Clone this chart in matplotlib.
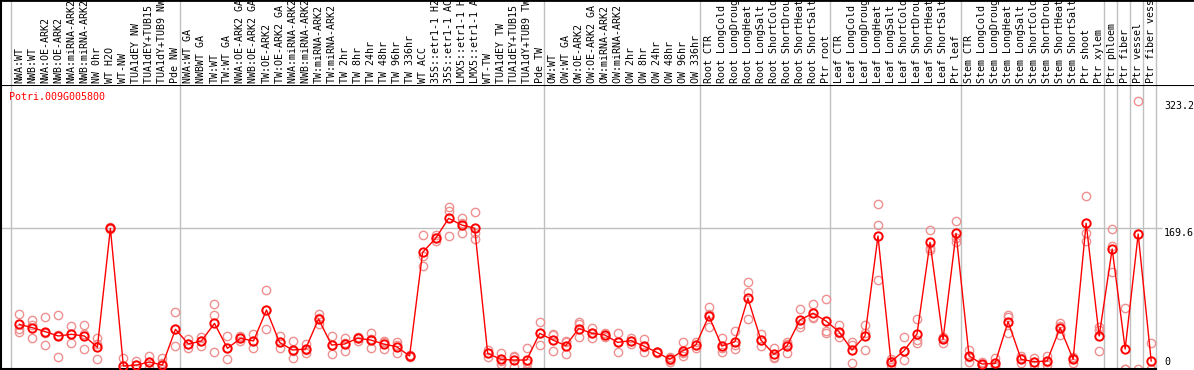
import matplotlib
matplotlib.use("Agg")
import matplotlib.pyplot as plt

# condition labels (88 columns)
labels = [
    "NWA:WT", "NWB:WT", "NWA:OE-ARK2", "NWB:OE-ARK2", "NWA:miRNA-ARK2", "NWB:miRNA-ARK2",
    "NW 0hr", "WT H2O", "WT-NW", "TUA1dEY NW", "TUA1dEY+TUB15 NW", "TUA1dY+TUB9 NW", "Pde NW",
    "NWA:WT GA", "NWBWT GA", "TW:WT", "TW:WT GA", "NWA:OE-ARK2 GA", "NWB:OE-ARK2 GA",
    "TW:OE-ARK2", "TW:OE-ARK2 GA", "NWA:miRNA-ARK2 GA", "NWB:miRNA-ARK2 GA",
    "TW:miRNA-ARK2", "TW:miRNA-ARK2 GA", "TW 2hr", "TW 8hr", "TW 24hr", "TW 48hr",
    "TW 96hr", "TW 336hr", "WT ACC", "35S::etr1-1 H2O", "35S::etr1-1 ACC",
    "LMX5::etr1-1 H2O", "LMX5::etr1-1 ACC", "WT-TW", "TUA1dEY TW", "TUA1dEY+TUB15 TW",
    "TUA1dY+TUB9 TW", "Pde TW",
    "OW:WT", "OW:WT GA", "OW:OE-ARK2", "OW:OE-ARK2 GA", "OW:miRNA-ARK2", "OW:miRNA-ARK2 GA",
    "OW 2hr", "OW 8hr", "OW 24hr", "OW 48hr", "OW 96hr", "OW 336hr",
    "Root CTR", "Root LongCold", "Root LongDrought", "Root LongHeat", "Root LongSalt",
    "Root ShortCold", "Root ShortDrought", "Root ShortHeat", "Root ShortSalt", "Ptr root",
    "Leaf CTR", "Leaf LongCold", "Leaf LongDrought", "Leaf LongHeat", "Leaf LongSalt",
    "Leaf ShortCold", "Leaf ShortDrought", "Leaf ShortHeat", "Leaf ShortSalt", "Ptr leaf",
    "Stem CTR", "Stem LongCold", "Stem LongDrought", "Stem LongHeat", "Stem LongSalt",
    "Stem ShortCold", "Stem ShortDrought", "Stem ShortHeat", "Stem ShortSalt",
    "Ptr shoot", "Ptr xylem",
    "Ptr phloem", "Ptr fiber", "Ptr vessel", "Ptr fiber vessel",
]

# first column of each group (gray separators)
group_starts = [0, 13, 41, 53, 63, 73, 84, 85, 86, 87, 88]

gene = "Potri.009G005800"

means = [
    53.8, 49.8, 45.0, 39.8, 41.8, 39.8, 26.1, 169.6, 3.6, 4.8, 8.4, 4.8, 47.8,
    30.1, 33.8, 55.0, 24.9, 37.0, 33.8, 71.1, 32.1, 22.9, 24.1, 60.3, 28.9, 30.1,
    37.0, 35.0, 30.1, 26.9, 15.7, 140.6, 157.5, 181.6, 173.6, 169.6, 18.9, 11.7,
    10.8, 10.8, 43.0,
    35.0, 28.1, 48.8, 43.0, 41.0, 32.1, 34.2, 27.7, 20.1, 11.7, 22.1, 28.9,
    63.9, 27.7, 32.9, 85.2, 35.0, 17.7, 27.7, 59.1, 67.1, 57.9,
    45.0, 22.9, 39.8, 160.3, 8.8, 22.1, 42.2, 152.7, 35.8, 163.5,
    15.7, 6.0, 6.8, 57.1, 11.7, 8.8, 9.6, 49.8, 11.7, 175.6, 39.8,
    144.6, 24.1, 162.7, 9.6,
]

rep_hi = [
    65.9, 59.1, 62.3, 64.7, 51.8, 53.0, 37.8, 170.8, 12.9, 9.6, 15.7, 12.9, 68.3,
    35.8, 39.0, 77.9, 39.8, 39.8, 41.8, 95.2, 39.8, 33.8, 30.1, 65.9, 39.8, 37.0,
    39.0, 43.8, 34.2, 32.9, 16.9, 161.5, 161.5, 194.9, 181.6, 188.8, 22.9, 19.7,
    15.7, 24.9, 57.1,
    41.8, 33.8, 56.7, 49.0, 43.0, 43.0, 37.8, 35.8, 20.9, 14.9, 32.1, 32.9,
    74.3, 37.0, 45.8, 104.5, 42.2, 24.9, 32.9, 72.3, 77.9, 84.0,
    53.0, 32.9, 53.0, 198.5, 11.7, 38.2, 60.3, 167.6, 39.0, 178.4,
    22.9, 8.8, 12.9, 65.1, 15.7, 12.9, 16.1, 55.9, 14.9, 208.5, 51.0,
    168.8, 73.1, 323.2, 30.9,
]

rep_mid = [
    47.8, 52.6, 43.8, 40.6, 42.6, 42.6, 30.1, 169.6, 0.0, 4.8, 8.4, 6.8, 47.8,
    30.1, 33.8, 65.1, 24.9, 37.0, 33.8, 71.1, 32.1, 22.1, 22.9, 61.1, 28.9, 30.9,
    37.8, 36.2, 32.1, 28.9, 15.7, 136.6, 157.5, 190.9, 175.6, 163.5, 18.9, 10.0,
    14.1, 7.6, 43.0,
    41.0, 32.5, 53.8, 43.0, 41.0, 32.1, 34.2, 26.9, 20.1, 10.8, 18.9, 28.9,
    66.3, 24.9, 28.9, 93.2, 35.0, 14.9, 30.1, 53.8, 62.3, 45.8,
    43.0, 28.9, 43.0, 173.6, 9.6, 22.1, 35.0, 145.5, 37.0, 157.5,
    14.9, 4.8, 4.8, 63.1, 12.9, 8.8, 8.8, 52.2, 12.9, 163.5, 47.0,
    148.7, 0.0, 162.3, 0.0,
]

rep_lo = [
    45.0, 37.8, 28.9, 14.1, 30.9, 23.7, 11.7, 168.4, 0.0, 0.0, 0.8, 0.0, 27.3,
    24.9, 28.1, 20.9, 11.7, 34.2, 24.9, 47.8, 24.9, 12.9, 19.7, 53.8, 17.7, 22.1,
    34.2, 24.9, 23.7, 18.9, 14.9, 124.6, 154.7, 160.3, 163.5, 156.3, 14.9, 6.0,
    2.8, 0.0, 28.9,
    22.1, 18.1, 39.0, 37.0, 39.0, 20.9, 30.1, 20.1, 18.9, 8.8, 15.7, 24.9,
    51.0, 20.9, 23.7, 59.9, 28.1, 13.7, 19.7, 51.0, 61.1, 43.0,
    39.0, 6.8, 22.9, 107.3, 4.8, 10.8, 30.9, 143.4, 30.9, 153.5,
    8.8, 4.8, 2.8, 43.0, 6.8, 4.8, 4.8, 41.0, 6.8, 154.7, 21.7,
    117.3, 0.0, 0.0, 0.0,
]

yticks = [0, 169.6, 323.2]

W, H = 1194, 370
fig = plt.figure(figsize=(W / 100, H / 100), dpi=100)
mono = "DejaVu Sans Mono"
fs = 7.2
grid_c = "#c0c0c0"

x = list(range(len(labels)))
xlim = (-1.407, 90.29)

# plot area
ax = fig.add_axes([1 / W, 1 / H, (W - 1) / W, 284 / H])
ax.set_xlim(*xlim)
ax.set_ylim(0, 342.3)
ax.set_xticks([])
ax.set_yticks([])
for s in ["right"]:
    ax.spines[s].set_visible(False)
ax.spines["bottom"].set_bounds(xlim[0], group_starts[-1] - 0.65)
for s in ["left", "top", "bottom"]:
    ax.spines[s].set_color("black")
    ax.spines[s].set_linewidth(1.5)

# header area with rotated labels
axh = fig.add_axes([1 / W, 285 / H, (W - 1) / W, 85 / H])
axh.set_xlim(*xlim)
axh.set_ylim(0, 1)
axh.set_xticks([])
axh.set_yticks([])
axh.spines["right"].set_visible(False)
axh.spines["bottom"].set_visible(False)
axh.spines["left"].set_linewidth(1.5)
axh.spines["top"].set_linewidth(2)

for g in group_starts:
    ax.axvline(g - 0.65, color=grid_c, lw=1, zorder=0)
    axh.axvline(g - 0.65, color=grid_c, lw=1, zorder=0)

ax.hlines(169.6, xlim[0], 87.85, color=grid_c, lw=1, zorder=0)

for i, lab in enumerate(labels):
    axh.text(i, 0.02, lab, rotation=90, ha="center", va="bottom",
             family=mono, fontsize=fs, color="black")

# replicates
for reps in (rep_hi, rep_mid, rep_lo):
    ax.plot(x, reps, linestyle="none", marker="o", markersize=6, mfc="none",
            mec="#ef9090", mew=1.0, zorder=2)

# mean line
ax.plot(x, means, color="red", lw=1.0, marker="o", markersize=6, mfc="none",
        mec="red", mew=1.4, zorder=3)

# y labels on the right
ax.text(88.0, yticks[2], "323.2", ha="left", va="top", family=mono, fontsize=fs)
ax.text(88.0, yticks[1], "169.6", ha="left", va="top", family=mono, fontsize=fs)
ax.text(88.0, 3, "0", ha="left", va="bottom", family=mono, fontsize=fs)

ax.annotate(gene, xy=(0, 1), xycoords="axes fraction", xytext=(6.1, -9),
            textcoords="offset points", ha="left", va="center",
            family=mono, fontsize=fs, color="red")

fig.savefig("out.png", dpi=100)
